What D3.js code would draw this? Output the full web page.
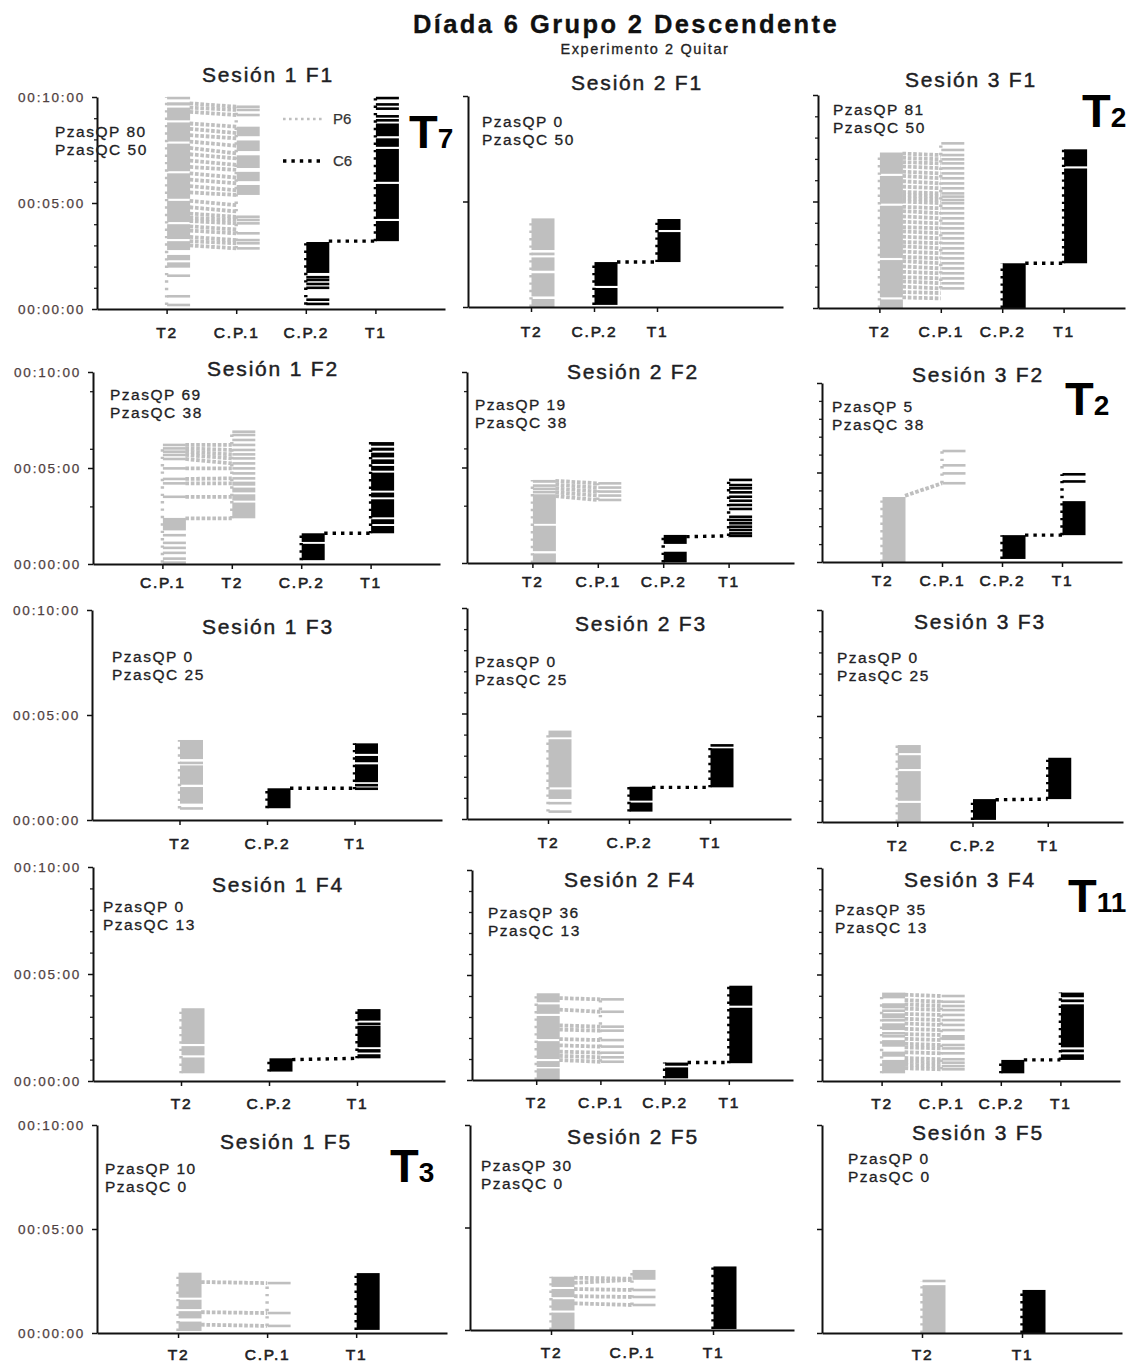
<!DOCTYPE html>
<html>
<head>
<meta charset="utf-8">
<script src="https://cdn.jsdelivr.net/npm/d3@7"></script>
<style>
  body { margin: 0; background: #fff; }
  svg { display: block; }
  text { font-family: "Liberation Sans", Arial, sans-serif; }
</style>
</head>
<body>
<svg id="chart" width="1130" height="1362"></svg>
<script>
// ---------- Text content ----------
const mainTitle = "Díada 6 Grupo 2 Descendente";
const subTitle = "Experimento 2 Quitar";
const sessionNames = ["Sesión 1", "Sesión 2", "Sesión 3"];
const phaseNames = ["F1", "F2", "F3", "F4", "F5"];
// pieces per phase (rows) and session (columns)
const piezasQP = [[80, 0, 81], [69, 19, 5], [0, 0, 0], [0, 36, 35], [10, 30, 0]];
const piezasQC = [[50, 50, 50], [38, 38, 38], [25, 25, 25], [13, 13, 13], [0, 0, 0]];
const yTickMinutes = [0, 5, 10];
const seriesNames = ["P6", "C6"];
// trial numbers written as T with a subscript
const trialSub = { S1F1: "7", S3F1: "2", S3F2: "2", S3F4: "11", S1F5: "3" };

// ---------- Event records (minutes). A number is a single response, [a, b] a run of responses ----------
// Session 1, F1
const S1F1_cats = ["T2", "C.P.1", "C.P.2", "T1"];
const S1F1_P6 = {
  "T2": [[9.95, 10.0], [9.6, 9.75], [8.9, 9.5], [7.9, 8.8], [6.5, 7.8], [5.2, 6.4], [4.1, 5.1], [3.3, 4.0], [2.78, 3.2],
         [2.3, 2.55], [1.95, 2.2], 1.57, 0.6, 0.19],
  "C.P.1": [9.54, 9.39, 9.15, [8.15, 8.6], [7.45, 7.95], [6.65, 7.25], [6.03, 6.47], [5.38, 5.85],
            4.35, 4.2, 4.04, 3.57, 3.25, 3.1, 2.86]
};
const S1F1_P6_links = [{ from: "T2", to: "C.P.1", pairs: [
  [9.7, 9.54], [9.5, 9.39], [9.3, 9.15], [8.75, 8.6], [8.5, 8.3], [8.2, 8.05], [7.9, 7.7], [7.6, 7.34], [7.3, 7.1],
  [7.0, 6.8], [6.7, 6.56], [6.4, 6.2], [6.1, 5.93], [5.8, 5.6], [5.5, 5.38], [5.1, 4.9], [4.8, 4.6], [4.5, 4.35],
  [4.3, 4.2], [4.15, 4.04], [3.9, 3.75], [3.7, 3.57], [3.4, 3.25], [3.2, 3.1], [3.0, 2.86]] }];
const S1F1_C6 = {
  "C.P.2": [[1.7, 3.16], 1.5, 1.37, 1.18, 1.0, [0.4, 0.5], [0.2, 0.3]],
  "T1": [[9.95, 10.0], 9.65, 9.45, [9.05, 9.15], 8.9, [8.15, 8.75], [7.65, 8.05], [6.0, 7.55], [4.25, 5.9], [3.2, 4.15]]
};
const S1F1_C6_links = [{ from: "C.P.2", to: "T1", pairs: [[3.2, 3.2]] }];

// Session 2, F1
const S2F1_cats = ["T2", "C.P.2", "T1"];
const S2F1_P6 = { "T2": [[0, 0.38], [0.5, 1.6], [1.72, 2.35], [2.45, 2.58], [2.7, 4.2]] };
const S2F1_P6_links = [];
const S2F1_C6 = { "C.P.2": [[0.1, 0.9], [1.0, 2.13]], "T1": [[2.13, 3.55], [3.65, 4.17]] };
const S2F1_C6_links = [{ from: "C.P.2", to: "T1", pairs: [[2.13, 2.13]] }];

// Session 3, F1
const S3F1_cats = ["T2", "C.P.1", "C.P.2", "T1"];
const S3F1_P6 = {
  "T2": [[0, 0.4], [0.5, 2.25], [2.35, 4.8], [4.9, 6.2], [6.3, 7.3]],
  "C.P.1": [7.73, 7.42, 7.18, 6.98, 6.79, 6.56, 6.32, 6.09, 5.85, 5.62, 5.38, 5.23, 5.07, 4.92, 4.68, 4.45, 4.21,
            3.97, 3.74, 3.51, 3.27, 3.04, 2.80, 2.57, 2.33, 2.10, 1.86, 1.63, 1.39, 1.16, 0.92]
};
const S3F1_P6_links = [{ from: "T2", to: "C.P.1", pairs: [
  [7.25, 7.18], [7.05, 6.98], [6.85, 6.79], [6.65, 6.56], [6.4, 6.32], [6.2, 6.09], [5.95, 5.85], [5.7, 5.62],
  [5.45, 5.38], [5.3, 5.23], [5.15, 5.07], [5.0, 4.92], [4.75, 4.68], [4.55, 4.45], [4.3, 4.21], [4.05, 3.97],
  [3.8, 3.74], [3.6, 3.51], [3.35, 3.27], [3.1, 3.04], [2.9, 2.8], [2.65, 2.57], [2.4, 2.33], [2.2, 2.1],
  [1.95, 1.86], [1.7, 1.63], [1.45, 1.39], [1.25, 1.16], [1.0, 0.92], [0.75, 0.7], [0.5, 0.45]] }];
const S3F1_C6 = { "C.P.2": [[0, 2.1]], "T1": [[2.1, 6.55], [6.65, 7.45]] };
const S3F1_C6_links = [{ from: "C.P.2", to: "T1", pairs: [[2.1, 2.1]] }];

// Session 1, F2
const S1F2_cats = ["C.P.1", "T2", "C.P.2", "T1"];
const S1F2_P6 = {
  "C.P.1": [[1.75, 2.4], 1.5, 1.1, 0.84, 0.58, 0.28, 0.07, 6.2, 6.02, 5.85, 5.68, 5.47, 4.98, 4.43, 4.2, 3.5],
  "T2": [6.89, 6.72, 6.46, 6.2, 5.94, 5.71, 5.5, 5.24, 4.98, 4.72, 4.46, [4.08, 4.29], [3.73, 3.98], [3.3, 3.63], [2.38, 3.2]]
};
const S1F2_P6_links = [{ from: "C.P.1", to: "T2", pairs: [
  [6.2, 6.2], [6.02, 5.94], [5.85, 5.71], [5.68, 5.5], [5.47, 5.24], [4.98, 4.98], [4.43, 4.46], [4.2, 4.2],
  [3.5, 3.5], [2.38, 2.38]] }];
const S1F2_C6 = {
  "C.P.2": [[0.2, 1.05], [1.15, 1.6]],
  "T1": [[1.6, 1.98], [2.08, 2.33], [2.43, 3.37], [3.47, 3.72], [3.82, 4.76], [4.86, 5.11], [5.21, 5.45], [5.55, 5.8],
         [5.9, 6.06], [6.16, 6.35]]
};
const S1F2_C6_links = [{ from: "C.P.2", to: "T1", pairs: [[1.6, 1.6]] }];

// Session 2, F2
const S2F2_cats = ["T2", "C.P.1", "C.P.2", "T1"];
const S2F2_P6 = {
  "T2": [[0, 0.5], [0.62, 1.95], [2.05, 3.6], [3.7, 3.78], [3.88, 3.95], [4.05, 4.12], [4.2, 4.35]],
  "C.P.1": [4.17, 3.95, 3.74, 3.53, 3.3]
};
const S2F2_P6_links = [{ from: "T2", to: "C.P.1", pairs: [[4.3, 4.17], [4.1, 3.95], [3.9, 3.74], [3.7, 3.53], [3.5, 3.3]] }];
const S2F2_C6 = {
  "C.P.2": [[0.03, 0.59], [1.0, 1.47]],
  "T1": [4.35, 4.08, 3.91, 3.70, 3.47, 3.26, 3.04, 2.83, 2.42, 2.25, 2.08, 1.90, 1.73, 1.55, 1.42]
};
const S2F2_C6_links = [{ from: "C.P.2", to: "T1", pairs: [[1.38, 1.42]] }];

// Session 3, F2
const S3F2_cats = ["T2", "C.P.1", "C.P.2", "T1"];
const S3F2_P6 = { "T2": [[0, 3.63]], "C.P.1": [6.2, 5.4, 4.95, 4.4] };
const S3F2_P6_links = [{ from: "T2", to: "C.P.1", pairs: [[3.7, 4.4]] }];
const S3F2_C6 = { "C.P.2": [[0.17, 1.5]], "T1": [[1.5, 3.4], 4.5, 4.9] };
const S3F2_C6_links = [{ from: "C.P.2", to: "T1", pairs: [[1.5, 1.5]] }];

// Session 1, F3
const S1F3_cats = ["T2", "C.P.2", "T1"];
const S1F3_P6 = { "T2": [[0.78, 1.57], [1.68, 2.6], [2.68, 2.78], [2.9, 3.81], 0.55] };
const S1F3_P6_links = [];
const S1F3_C6 = { "C.P.2": [[0.56, 1.51]], "T1": [[1.46, 1.55], [1.62, 1.72], [1.8, 2.65], [2.75, 3.05], [3.15, 3.65]] };
const S1F3_C6_links = [{ from: "C.P.2", to: "T1", pairs: [[1.51, 1.51]] }];

// Session 2, F3
const S2F3_cats = ["T2", "C.P.2", "T1"];
const S2F3_P6 = { "T2": [[0.95, 1.4], [1.5, 3.78], [3.87, 4.19], 0.35, 0.75] };
const S2F3_P6_links = [];
const S2F3_C6 = { "C.P.2": [[0.35, 0.78], [0.87, 1.53]], "T1": [[1.5, 3.35], [3.45, 3.55]] };
const S2F3_C6_links = [{ from: "C.P.2", to: "T1", pairs: [[1.5, 1.5]] }];

// Session 3, F3
const S3F3_cats = ["T2", "C.P.2", "T1"];
const S3F3_P6 = { "T2": [[0, 0.9], [1.0, 2.4], [2.5, 3.15], [3.25, 3.63]] };
const S3F3_P6_links = [];
const S3F3_C6 = { "C.P.2": [[0.1, 1.08]], "T1": [[1.08, 3.03]] };
const S3F3_C6_links = [{ from: "C.P.2", to: "T1", pairs: [[1.05, 1.08]] }];

// Session 1, F4
const S1F4_cats = ["T2", "C.P.2", "T1"];
const S1F4_P6 = { "T2": [[0.36, 1.1], [1.2, 1.63], [1.73, 3.4]] };
const S1F4_P6_links = [];
const S1F4_C6 = { "C.P.2": [[0.44, 1.06]], "T1": [[1.06, 1.25], [1.33, 1.49], [1.58, 2.58], [2.66, 2.73], [2.82, 3.36]] };
const S1F4_C6_links = [{ from: "C.P.2", to: "T1", pairs: [[1.0, 1.06]] }];

// Session 2, F4
const S2F4_cats = ["T2", "C.P.1", "C.P.2", "T1"];
const S2F4_P6 = {
  "T2": [[0, 0.55], [0.62, 0.9], [1.0, 1.85], [1.95, 3.05], [3.15, 3.6], [3.7, 4.13]],
  "C.P.1": [3.84, 3.25, 2.54, 2.35, 1.9, 1.59, 1.3, 1.08, 0.87]
};
const S2F4_P6_links = [{ from: "T2", to: "C.P.1", pairs: [
  [3.9, 3.84], [3.35, 3.25], [2.6, 2.54], [2.4, 2.35], [1.95, 1.9], [1.65, 1.59], [1.35, 1.3], [1.15, 1.08], [0.95, 0.87]] }];
const S2F4_C6 = { "C.P.2": [[0.08, 0.6], [0.68, 0.83]], "T1": [[0.8, 3.44], [3.54, 4.49]] };
const S2F4_C6_links = [{ from: "C.P.2", to: "T1", pairs: [[0.83, 0.83]] }];

// Session 3, F4
const S3F4_cats = ["T2", "C.P.1", "C.P.2", "T1"];
const S3F4_P6 = {
  "T2": [[0.36, 0.99], [1.14, 1.38], [1.61, 1.92], 2.1, 2.24, [2.39, 2.71], 2.85, [2.94, 3.18], 3.3, [3.41, 3.65], [3.88, 4.15]],
  "C.P.1": [3.99, 3.72, 3.52, 3.33, 3.1, 2.86, 2.63, 2.39, [1.92, 2.16], 1.69, 1.53, 1.3, 1.02, 0.86, 0.7, 0.55]
};
const S3F4_P6_links = [{ from: "T2", to: "C.P.1", pairs: [
  [4.05, 3.99], [3.8, 3.72], [3.6, 3.52], [3.4, 3.33], [3.15, 3.1], [2.92, 2.86], [2.7, 2.63], [2.45, 2.39],
  [2.2, 2.16], [1.98, 1.92], [1.75, 1.69], [1.58, 1.53], [1.35, 1.3], [1.08, 1.02], [0.92, 0.86], [0.76, 0.7], [0.6, 0.55]] }];
const S3F4_C6 = { "C.P.2": [[0.36, 0.99]], "T1": [[0.99, 1.25], [1.35, 1.48], [1.58, 3.6], [3.7, 3.83], [3.93, 4.15]] };
const S3F4_C6_links = [{ from: "C.P.2", to: "T1", pairs: [[0.99, 0.99]] }];

// Session 1, F5
const S1F5_cats = ["T2", "C.P.1", "T1"];
const S1F5_P6 = { "T2": [[0.1, 0.55], [0.7, 1.05], [1.15, 1.6], [1.7, 2.9]], "C.P.1": [2.4, 0.96, 0.34] };
const S1F5_P6_links = [{ from: "T2", to: "C.P.1", pairs: [[2.45, 2.4], [1.0, 0.96], [0.4, 0.34]] }];
const S1F5_C6 = { "T1": [[0.15, 2.88]] };
const S1F5_C6_links = [];

// Session 2, F5
const S2F5_cats = ["T2", "C.P.1", "T1"];
const S2F5_P6 = { "T2": [[0, 0.85], [0.95, 1.5], [1.6, 2.0], [2.1, 2.6]], "C.P.1": [[2.45, 2.93], 1.95, 1.61, 1.22] };
const S2F5_P6_links = [{ from: "T2", to: "C.P.1", pairs: [[2.55, 2.5], [2.3, 2.45], [2.0, 1.95], [1.65, 1.61], [1.3, 1.22]] }];
const S2F5_C6 = { "T1": [[0.05, 3.1]] };
const S2F5_C6_links = [];

// Session 3, F5
const S3F5_cats = ["T2", "T1"];
const S3F5_P6 = { "T2": [[0, 2.3], 2.5] };
const S3F5_P6_links = [];
const S3F5_C6 = { "T1": [[0, 2.07]] };
const S3F5_C6_links = [];

// ---------- Panel layout ----------
const ALL_MIN = [1, 2, 3, 4, 6, 7, 8, 9];
const panels = [
  { key: "S1F1", row: 0, col: 0, cats: S1F1_cats, p6: S1F1_P6, p6L: S1F1_P6_links, c6: S1F1_C6, c6L: S1F1_C6_links,
    x0: 97, x1: 445, yTop: 97, yBot: 309, slots: 5, lead: 1, minor: ALL_MIN, title: [268, 82], note: [55, 137], pad: 13, mark: [409, 148] },
  { key: "S2F1", row: 0, col: 1, cats: S2F1_cats, p6: S2F1_P6, p6L: S2F1_P6_links, c6: S2F1_C6, c6L: S2F1_C6_links,
    x0: 468, x1: 783, yTop: 96, yBot: 307, slots: 5, lead: 1, minor: [], title: [637, 90], note: [482, 127], pad: 14 },
  { key: "S3F1", row: 0, col: 2, cats: S3F1_cats, p6: S3F1_P6, p6L: S3F1_P6_links, c6: S3F1_C6, c6L: S3F1_C6_links,
    x0: 818, x1: 1125, yTop: 95, yBot: 308, slots: 5, lead: 1, minor: ALL_MIN, title: [971, 87], note: [833, 115], pad: 13, mark: [1082, 127] },
  { key: "S1F2", row: 1, col: 0, cats: S1F2_cats, p6: S1F2_P6, p6L: S1F2_P6_links, c6: S1F2_C6, c6L: S1F2_C6_links,
    x0: 93, x1: 440, yTop: 372, yBot: 564, slots: 5, lead: 1, minor: [9, 6, 3], title: [273, 376], note: [110, 400], pad: 8 },
  { key: "S2F2", row: 1, col: 1, cats: S2F2_cats, p6: S2F2_P6, p6L: S2F2_P6_links, c6: S2F2_C6, c6L: S2F2_C6_links,
    x0: 467, x1: 794, yTop: 372, yBot: 563, slots: 5, lead: 1, minor: [9, 6, 3], title: [633, 379], note: [475, 410], pad: 8 },
  { key: "S3F2", row: 1, col: 2, cats: S3F2_cats, p6: S3F2_P6, p6L: S3F2_P6_links, c6: S3F2_C6, c6L: S3F2_C6_links,
    x0: 822, x1: 1122, yTop: 383, yBot: 562, slots: 5, lead: 1, minor: ALL_MIN, title: [978, 382], note: [832, 412], pad: 8, mark: [1065, 415] },
  { key: "S1F3", row: 2, col: 0, cats: S1F3_cats, p6: S1F3_P6, p6L: S1F3_P6_links, c6: S1F3_C6, c6L: S1F3_C6_links,
    x0: 92, x1: 442, yTop: 610, yBot: 820, slots: 4, lead: 1, minor: [], title: [268, 634], note: [112, 662], pad: 13 },
  { key: "S2F3", row: 2, col: 1, cats: S2F3_cats, p6: S2F3_P6, p6L: S2F3_P6_links, c6: S2F3_C6, c6L: S2F3_C6_links,
    x0: 467, x1: 791, yTop: 608, yBot: 819, slots: 4, lead: 1, minor: ALL_MIN, title: [641, 631], note: [475, 667], pad: 13 },
  { key: "S3F3", row: 2, col: 2, cats: S3F3_cats, p6: S3F3_P6, p6L: S3F3_P6_links, c6: S3F3_C6, c6L: S3F3_C6_links,
    x0: 822, x1: 1123, yTop: 610, yBot: 822, slots: 4, lead: 1, minor: ALL_MIN, title: [980, 629], note: [837, 663], pad: 13 },
  { key: "S1F4", row: 3, col: 0, cats: S1F4_cats, p6: S1F4_P6, p6L: S1F4_P6_links, c6: S1F4_C6, c6L: S1F4_C6_links,
    x0: 93, x1: 445, yTop: 867, yBot: 1081, slots: 4, lead: 1, minor: ALL_MIN, title: [278, 892], note: [103, 912], pad: 12 },
  { key: "S2F4", row: 3, col: 1, cats: S2F4_cats, p6: S2F4_P6, p6L: S2F4_P6_links, c6: S2F4_C6, c6L: S2F4_C6_links,
    x0: 472, x1: 793, yTop: 870, yBot: 1080, slots: 5, lead: 1, minor: ALL_MIN, title: [630, 887], note: [488, 918], pad: 12 },
  { key: "S3F4", row: 3, col: 2, cats: S3F4_cats, p6: S3F4_P6, p6L: S3F4_P6_links, c6: S3F4_C6, c6L: S3F4_C6_links,
    x0: 822, x1: 1120, yTop: 868, yBot: 1081, slots: 5, lead: 1, minor: ALL_MIN, title: [970, 887], note: [835, 915], pad: 12, mark: [1068, 912] },
  { key: "S1F5", row: 4, col: 0, cats: S1F5_cats, p6: S1F5_P6, p6L: S1F5_P6_links, c6: S1F5_C6, c6L: S1F5_C6_links,
    x0: 97, x1: 447, yTop: 1125, yBot: 1333, slots: 3.93, lead: 0.91, minor: [], title: [286, 1149], note: [105, 1174], pad: 11, mark: [390, 1182] },
  { key: "S2F5", row: 4, col: 1, cats: S2F5_cats, p6: S2F5_P6, p6L: S2F5_P6_links, c6: S2F5_C6, c6L: S2F5_C6_links,
    x0: 470, x1: 794, yTop: 1125, yBot: 1330, slots: 4, lead: 1, minor: [], title: [633, 1144], note: [481, 1171], pad: 12 },
  { key: "S3F5", row: 4, col: 2, cats: S3F5_cats, p6: S3F5_P6, p6L: S3F5_P6_links, c6: S3F5_C6, c6L: S3F5_C6_links,
    x0: 822, x1: 1122, yTop: 1125, yBot: 1333, slots: 3, lead: 1, minor: [], title: [978, 1140], note: [848, 1164], pad: 11 }
];

// ---------- Drawing ----------
const GRAY = "#bfbfbf";
const INK = "#000";
const TEXT = "#1e1e24";
const BAR_W = 23;
const DASH_H = 2.6;
const GRAY_LINK = [3.8, "3.6 1.8"];
const INK_LINK = [3.4, "3.4 5"];
const fmtTime = m => "00:" + String(m).padStart(2, "0") + ":00";
// slightly heavier glyphs for all labels
const heavy = (sel, w) => sel.attr("stroke", "currentColor").attr("stroke-width", w).attr("paint-order", "stroke");

const svg = d3.select("#chart");

heavy(svg.append("text").attr("x", 626).attr("y", 33).attr("text-anchor", "middle")
  .attr("font-size", 25.5).attr("font-weight", "bold").attr("fill", "#111").style("color", "#111")
  .style("letter-spacing", "2.4px").text(mainTitle), 0.3);
heavy(svg.append("text").attr("x", 645).attr("y", 54).attr("text-anchor", "middle")
  .attr("font-size", 14.5).attr("fill", "#222").style("color", "#222")
  .style("letter-spacing", "1.6px").text(subTitle), 0.3);

panels.forEach(p => {
  const g = svg.append("g").attr("class", "panel " + p.key).style("color", TEXT);
  const x = d3.scaleLinear().domain([-p.lead, p.slots - p.lead]).range([p.x0, p.x1]);
  const y = d3.scaleLinear().domain([0, 10]).range([p.yBot, p.yTop]);
  const xc = c => x(p.cats.indexOf(c));

  // links between consecutive responses in different components
  function drawLinks(links, color, style) {
    links.forEach(l => {
      g.append("g").selectAll("line").data(l.pairs).join("line")
        .attr("x1", xc(l.from) + BAR_W).attr("y1", d => y(d[0]))
        .attr("x2", xc(l.to)).attr("y2", d => y(d[1]))
        .attr("stroke", color).attr("stroke-width", style[0]).attr("stroke-dasharray", style[1]);
    });
  }

  function drawColumns(series, color) {
    Object.entries(series).forEach(([cat, spans]) => {
      const cx = xc(cat);
      const vals = spans.flatMap(s => Array.isArray(s) ? s : [s]);
      // response markers along the left edge of each component
      g.append("line")
        .attr("x1", cx).attr("x2", cx)
        .attr("y1", y(d3.min(vals))).attr("y2", y(d3.max(vals)))
        .attr("stroke", color).attr("stroke-width", 3.4).attr("stroke-dasharray", "2.4 5");
      g.append("g").selectAll("rect").data(spans).join("rect")
        .attr("x", cx + 0.5)
        .attr("width", BAR_W)
        .attr("y", d => Array.isArray(d) ? Math.min(y(d[1]), y(d[0]) - DASH_H / 2) : y(d) - DASH_H / 2)
        .attr("height", d => Array.isArray(d) ? Math.max(y(d[0]) - y(d[1]), DASH_H) : DASH_H)
        .attr("fill", color);
    });
  }

  drawLinks(p.p6L, GRAY, GRAY_LINK);
  drawColumns(p.p6, GRAY);
  drawLinks(p.c6L, INK, INK_LINK);
  drawColumns(p.c6, INK);

  // minor minute ticks
  if (p.minor.length) {
    g.append("g").attr("transform", `translate(${p.x0},0)`)
      .call(d3.axisLeft(y).tickValues(p.minor).tickSize(3).tickFormat(""))
      .call(a => a.select(".domain").remove())
      .call(a => a.selectAll("line").attr("stroke", "#222").attr("stroke-width", 1.3));
  }
  // time axis
  g.append("g").attr("transform", `translate(${p.x0},0)`)
    .call(d3.axisLeft(y).tickValues(yTickMinutes).tickSize(5).tickSizeOuter(0).tickPadding(7)
      .tickFormat(p.col === 0 ? fmtTime : ""))
    .call(a => a.select(".domain").attr("stroke", "#111").attr("stroke-width", 2))
    .call(a => a.selectAll("line").attr("stroke", "#111").attr("stroke-width", 1.5))
    .call(a => heavy(a.selectAll("text").attr("font-size", 13.5).attr("fill", "#4f4040").style("color", "#4f4040")
      .attr("font-family", "'Liberation Sans', Arial, sans-serif").style("letter-spacing", "1.8px"), 0.25));
  // component axis
  g.append("g").attr("transform", `translate(0,${p.yBot})`)
    .call(d3.axisBottom(x).tickValues(d3.range(p.cats.length)).tickFormat(i => p.cats[i])
      .tickSize(5).tickSizeOuter(0).tickPadding(p.pad))
    .call(a => a.select(".domain").attr("stroke", "#111").attr("stroke-width", 2))
    .call(a => a.selectAll("line").attr("stroke", "#111").attr("stroke-width", 1.5))
    .call(a => heavy(a.selectAll("text").attr("font-size", 15.5).attr("fill", TEXT).style("color", TEXT)
      .attr("font-family", "'Liberation Sans', Arial, sans-serif").style("letter-spacing", "1.8px"), 0.6));

  // panel title
  heavy(g.append("text").attr("x", p.title[0]).attr("y", p.title[1]).attr("text-anchor", "middle")
    .attr("font-size", 21).attr("fill", TEXT).style("letter-spacing", "1.8px")
    .text(sessionNames[p.col] + " " + phaseNames[p.row]), 0.45);

  // piece counts
  heavy(g.append("text").attr("x", p.note[0]).attr("y", p.note[1])
    .attr("font-size", 15.5).attr("fill", TEXT).style("letter-spacing", "1.5px")
    .text("PzasQP " + piezasQP[p.row][p.col]), 0.3);
  heavy(g.append("text").attr("x", p.note[0]).attr("y", p.note[1] + 18)
    .attr("font-size", 15.5).attr("fill", TEXT).style("letter-spacing", "1.5px")
    .text("PzasQC " + piezasQC[p.row][p.col]), 0.3);

  // trial number
  if (trialSub[p.key]) {
    const t = g.append("text").attr("x", p.mark[0]).attr("y", p.mark[1])
      .attr("font-size", 47).attr("font-weight", "bold").attr("fill", "#000");
    t.append("tspan").text("T");
    t.append("tspan").attr("font-size", 28).text(trialSub[p.key]);
  }

  // legend
  if (p.key === "S1F1") {
    const lg = g.append("g");
    [[119, GRAY, [2.6, "2.6 3.4"]], [161, INK, INK_LINK]].forEach(([ly, c, st], i) => {
      lg.append("line").attr("x1", 283).attr("x2", 325).attr("y1", ly).attr("y2", ly)
        .attr("stroke", c).attr("stroke-width", st[0]).attr("stroke-dasharray", st[1]);
      heavy(lg.append("text").attr("x", 333).attr("y", ly + 5).attr("font-size", 15).attr("fill", "#333")
        .style("color", "#333").text(seriesNames[i]), 0.25);
    });
  }
});
</script>
</body>
</html>
